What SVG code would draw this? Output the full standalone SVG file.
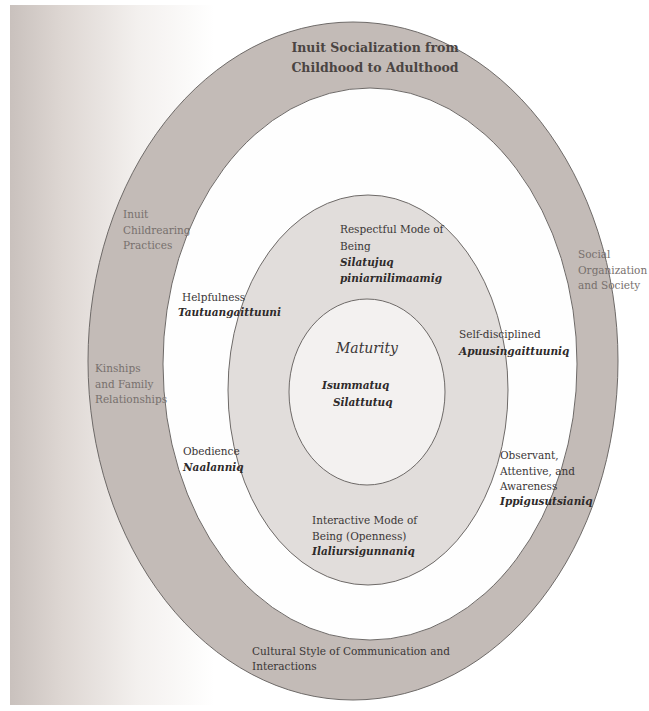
<svg xmlns="http://www.w3.org/2000/svg" width="649" height="711" viewBox="0 0 649 711">
<defs>
<linearGradient id="page" x1="0" y1="0" x2="1" y2="0">
<stop offset="0" stop-color="#c9c1bd"/>
<stop offset="0.08" stop-color="#ddd6d2"/>
<stop offset="0.2" stop-color="#f3f0ee"/>
<stop offset="0.32" stop-color="#ffffff"/>
</linearGradient>
<style>
.ring{stroke:#6e6a68;stroke-width:1}
.t{font-family:"DejaVu Serif","Liberation Serif",serif;font-size:10.5px;fill:#3a3636}
.g{font-family:"DejaVu Serif","Liberation Serif",serif;font-size:10.5px;fill:#77706d}
.b{font-family:"DejaVu Serif","Liberation Serif",serif;font-size:10.5px;font-weight:bold;font-style:italic;fill:#2e2a2a}
.h{font-family:"DejaVu Serif","Liberation Serif",serif;font-size:12.5px;font-weight:bold;fill:#4a4442}
</style>
</defs>
<rect x="0" y="0" width="649" height="711" fill="#ffffff"/>
<rect x="10" y="5" width="639" height="700" fill="url(#page)"/>
<g id="rings">
<ellipse class="ring" cx="353" cy="361" rx="265" ry="339" fill="#c3bbb7"/>
<ellipse class="ring" cx="370" cy="364" rx="207" ry="276" fill="#fefefe"/>
<ellipse class="ring" cx="368" cy="390" rx="140" ry="195" fill="#e1dddb"/>
<ellipse class="ring" cx="367" cy="392" rx="78" ry="93" fill="#f3f1f0"/>
</g>
<g id="outer">
<text class="h" x="375" y="52" text-anchor="middle">Inuit Socialization from</text>
<text class="h" x="375" y="72" text-anchor="middle">Childhood to Adulthood</text>
<text class="g" x="123" y="218">Inuit</text>
<text class="g" x="123" y="234">Childrearing</text>
<text class="g" x="123" y="249">Practices</text>
<text class="g" x="578" y="258">Social</text>
<text class="g" x="578" y="274">Organization</text>
<text class="g" x="578" y="289">and Society</text>
<text class="g" x="95" y="372">Kinships</text>
<text class="g" x="95" y="388">and Family</text>
<text class="g" x="95" y="403">Relationships</text>
<text class="t" x="252" y="655" fill="#4f4a48">Cultural Style of Communication and</text>
<text class="t" x="252" y="670">Interactions</text>
</g>
<g id="values">
<text class="t" x="182" y="301">Helpfulness</text>
<text class="b" x="178" y="316">Tautuangaittuuni</text>
<text class="t" x="459" y="338">Self-disciplined</text>
<text class="b" x="459" y="355">Apuusingaittuuniq</text>
<text class="t" x="183" y="455">Obedience</text>
<text class="b" x="183" y="471">Naalanniq</text>
<text class="t" x="500" y="459">Observant,</text>
<text class="t" x="500" y="475">Attentive, and</text>
<text class="t" x="500" y="490">Awareness</text>
<text class="b" x="500" y="505">Ippigusutsianiq</text>
</g>
<g id="modes">
<text class="t" x="340" y="233">Respectful Mode of</text>
<text class="t" x="340" y="250">Being</text>
<text class="b" x="340" y="266">Silatujuq</text>
<text class="b" x="340" y="282">piniarnilimaamig</text>
<text class="t" x="312" y="524">Interactive Mode of</text>
<text class="t" x="312" y="540">Being (Openness)</text>
<text class="b" x="312" y="555">Ilaliursigunnaniq</text>
</g>
<g id="maturity">
<text x="367" y="353" text-anchor="middle" font-family="DejaVu Serif, Liberation Serif, serif" font-size="14" font-style="italic" fill="#3a3636">Maturity</text>
<text class="b" x="322" y="389" font-size="12">Isummatuq</text>
<text class="b" x="333" y="406" font-size="12">Silattutuq</text>
</g>
<g id="connectors"></g>
</svg>
